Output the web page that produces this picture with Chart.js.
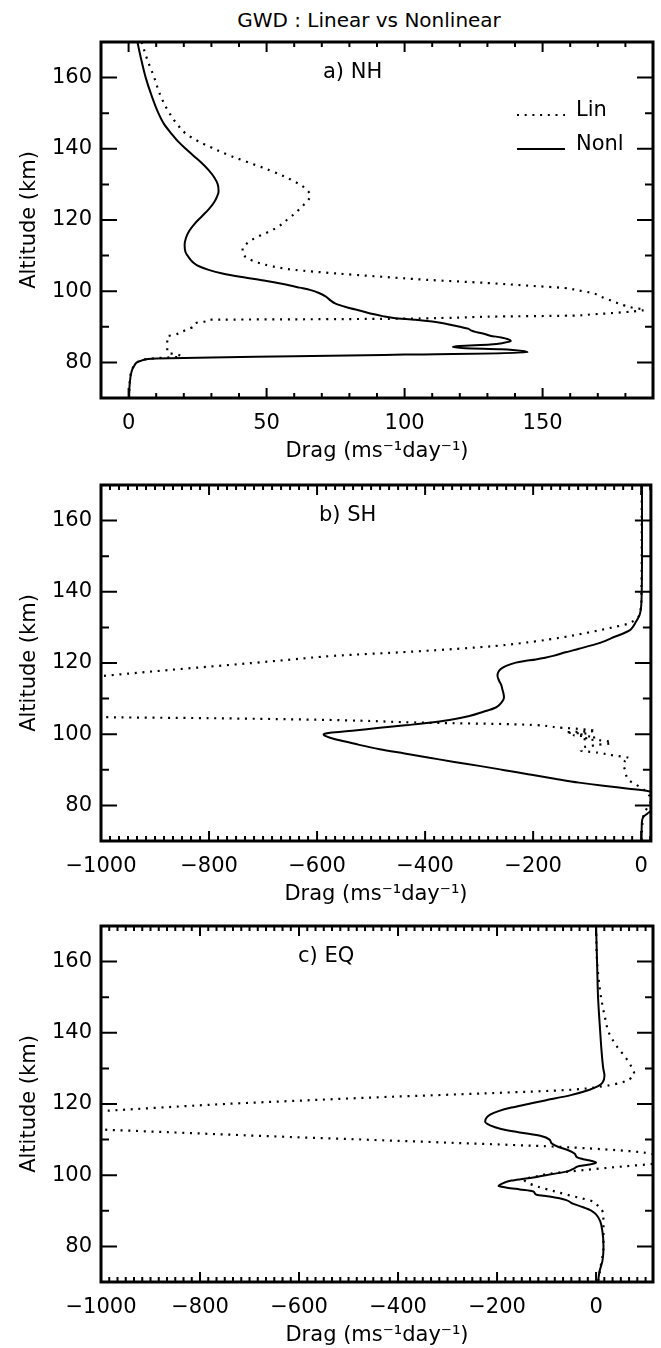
<!DOCTYPE html>
<html lang="en">
<head>
<meta charset="UTF-8">
<script src="https://cdn.jsdelivr.net/npm/chart.js@4.4.1/dist/chart.umd.min.js"></script>
<title>GWD : Linear vs Nonlinear</title>
<style>
    body { margin: 0; background: #fff; width: 661px; height: 1348px; position: relative; overflow: hidden; font-family: "DejaVu Sans", sans-serif; }
    #title { position: absolute; top: 8px; left: 0; width: 738px; text-align: center; font-size: 20px; line-height: 24px; color: #000; }
    canvas { position: absolute; left: 0; }
</style>
</head>
<body>
<div id="title">GWD : Linear vs Nonlinear</div>
<canvas id="nh" width="661" height="467" style="top:0px"></canvas>
<canvas id="sh" width="661" height="467" style="top:443px"></canvas>
<canvas id="eq" width="661" height="467" style="top:884px"></canvas>

<script>
// ---- a) NH ----
const nhLinAlt = [170, 165, 160, 156, 153, 150, 147, 144.3, 142, 140, 138, 136, 134, 132, 130, 128.5, 127, 125.5, 123.7, 122, 120, 118, 116.3, 115, 113.5, 112, 110.5, 109.3, 108, 107, 106, 105, 104.1, 103.2, 102.3, 101.5, 100.9, 100.2, 99.5, 98.5, 97.6, 96.7, 95.9, 95.3, 94.8, 94.3, 93.9, 93.5, 93.1, 92.9, 92.5, 92.25, 92.1, 92.0, 91.8, 91.5, 91.1, 90.1, 89.2, 88.5, 87.8, 87.3, 86, 85, 84, 83, 82.6, 82.4, 82, 81.6, 81.3, 81, 80.5, 80, 79, 78, 76, 73, 70];
const nhLinDrag = [4.7, 6.8, 9.3, 11, 12.7, 14.8, 17.5, 20.7, 25.5, 31, 37, 44, 51, 57, 62, 64.5, 65.8, 65, 62.7, 60.5, 57.3, 54, 49.7, 46, 43, 41.3, 41.5, 43, 47, 52, 60, 75, 91, 108, 130, 146, 158, 163, 168, 171, 174, 177, 180, 183, 187, 182.5, 176, 168, 158, 134, 115, 95, 60, 30, 28.5, 27.7, 24.5, 23.5, 21, 19, 17, 14, 14, 14, 14, 14, 14.5, 16.3, 18.5, 19, 12, 7, 4.5, 3, 2, 1.2, 0.6, 0.3, 0.2];
const nhNonAlt = [170, 165, 160, 155, 150, 147, 144, 142, 140, 138, 136, 134, 132, 130, 128, 126.5, 125, 123, 121, 119, 117, 115, 113, 111, 109.5, 108, 107, 106, 105, 104, 103, 102, 101, 100.3, 99.5, 98.5, 97.5, 96.5, 95.5, 94.5, 93.5, 93, 92.5, 92, 91.5, 91, 90.5, 90, 89.5, 89, 88.5, 88, 87.5, 87, 86.5, 86, 85.5, 85, 84.6, 84.3, 84, 83.7, 83.2, 82.8, 82.2, 81.7, 81.4, 81.1, 80.8, 80.4, 80, 79, 78, 76, 73, 70];
const nhNonDrag = [3.2, 4.6, 6.2, 8.3, 10.8, 12.8, 15.8, 18, 20.7, 23.6, 26.5, 29, 31, 32.3, 32.6, 32, 31, 29, 26.5, 24, 22, 20.8, 20.3, 20.6, 21.8, 23.5, 25.5, 29, 34, 41, 49, 56, 62, 66, 69, 71.5, 73, 75, 79, 84, 89, 92, 96, 104, 110, 114, 117, 120, 123, 124, 126, 129, 131, 135, 137.5, 138.5, 136, 131, 120, 117.5, 122, 135, 143, 144.5, 100, 60, 30, 10, 6, 4.3, 3, 2, 1.3, 0.7, 0.3, 0.2];

// ---- b) SH ----
const shLinAlt = [170, 150, 140, 136, 134.5, 133, 132.3, 131, 130, 128.5, 127.2, 126, 124.8, 123.2, 122, 121, 120, 119, 118, 117, 116.3, 115, 112, 110, 108, 106, 104.8, 104.5, 104, 103.2, 102.8, 101.8, 101.4, 100.9, 100.5, 100.1, 99.7, 99.2, 98.7, 98.2, 97.5, 97, 96.2, 95.4, 94.8, 94, 93.3, 92.5, 91.5, 90, 88.5, 87, 86, 85, 84, 83, 82, 81, 80, 79, 78, 76, 73, 70];
const shLinDrag = [1, 1, 0.5, 0, -2, -5, -10, -25, -53, -100, -146, -200, -269, -423, -570, -645, -720, -798, -877, -950, -1000, -1080, -1250, -1300, -1250, -1100, -1000, -800, -577, -392, -238, -146, -109, -84, -140, -100, -125, -85, -110, -70, -55, -80, -110, -112, -80, -50, -22, -30, -33, -30, -28, -22, -12, 0, 8, 14, 18, 17, 15, 10, 6, 3, 1.5, 1];
const shNonAlt = [170, 150, 140, 136, 134, 132.8, 131.5, 130, 129, 128, 127, 126, 125.3, 124, 123, 122, 121.5, 121, 120.5, 120.1, 119.2, 118.3, 117.3, 116.4, 115, 113.8, 112.6, 111.5, 110.3, 109, 107.5, 106.3, 105.1, 104, 103.2, 102.5, 101.8, 101, 100.4, 100, 99.5, 99, 98, 97, 95.8, 94.6, 93.4, 92.2, 91.1, 89.9, 88.7, 87.5, 86.4, 85.5, 84.7, 84, 83, 81, 79.5, 78.9, 78, 77.5, 77, 76, 74, 70];
const shNonDrag = [1.5, 1.5, 1, 0, -2, -5, -10, -16, -23, -38, -55, -70, -84, -115, -140, -163, -178, -195, -218, -232, -250, -260, -265, -266, -263, -259, -257, -255, -254, -258, -269, -292, -318, -355, -392, -437, -484, -535, -576, -588, -585, -576, -550, -522, -484, -438, -392, -346, -300, -253, -207, -160, -115, -70, -23, 14, 40, 50, 35, 25, 14, 10, 5, 2, 1, 0.5];

// ---- c) EQ ----
const eqLinAlt = [170, 160, 150, 145, 140, 136, 133, 130, 128.5, 127, 126, 125, 124, 123, 122, 121, 120, 119, 118, 117, 115.5, 114, 113, 112, 111, 110, 109, 108, 107, 106.3, 105.5, 104.5, 103.8, 103.2, 102.5, 101.4, 100.4, 99.5, 98.9, 97.8, 96.8, 95.9, 94.6, 93.7, 92.8, 91.9, 91, 89.4, 85, 80, 75, 70];
const eqLinDrag = [0, 2, 10, 17, 26, 43, 60, 73, 77, 68, 51, 15, -51, -222, -420, -590, -750, -880, -1000, -1120, -1250, -1180, -1030, -850, -670, -470, -270, -80, 45, 100, 125, 150, 135, 115, 58, -27, -95, -125, -146, -137, -118, -95, -61, -35, -10, 0, 7, 14, 15, 15, 10, 4];
const eqNonAlt = [170, 160, 150, 140, 135, 130, 128, 126, 125, 124, 122.5, 121, 120, 119, 118, 117, 116, 115, 114, 113, 112, 111, 110, 109, 108, 107, 106, 105, 104.5, 104, 103.5, 103, 102.6, 102, 101, 100.2, 99.5, 99, 98.5, 97.5, 97, 96.5, 96, 95.5, 95, 94.5, 94, 93, 92, 91, 90, 89, 87, 84, 80, 76, 73, 70];
const eqNonDrag = [0, 2, 4, 8.5, 11, 14.5, 17, 13, 4, -13, -51, -103, -137, -171, -197, -214, -222, -224, -214, -192, -154, -111, -94, -90, -77, -56, -43, -38, -26, -9, 0, -13, -34, -43, -60, -94, -120, -145, -171, -192, -197, -180, -154, -128, -124, -120, -94, -60, -47, -26, -9, 0, 8.5, 13, 15, 13, 7, 4];

// axis ticks
const altTicks = [80, 100, 120, 140, 160];
const nhDragTicks = [0, 50, 100, 150];
const shDragTicks = [-1000, -800, -600, -400, -200, 0];
const eqDragTicks = [-1000, -800, -600, -400, -200, 0];

const FONT = '"DejaVu Sans", sans-serif';
Chart.defaults.font.family = FONT;
Chart.defaults.color = '#000';

function pts(alt, drag) {
    return alt.map((a, i) => ({ x: drag[i], y: a }));
}

function fmt(v) {
    return v < 0 ? '\u2212' + Math.abs(v) : String(v);
}

function steps(min, max, step) {
    const out = [];
    for (let v = Math.ceil(min / step - 1e-9) * step; v <= max + 1e-9; v += step) out.push(v);
    return out;
}

// IDL style frame: thick box, inward ticks on all four sides, panel label and legend
const frame = {
    id: 'frame',
    afterDatasetsDraw(chart, args, opts) {
        const { ctx, chartArea: a, scales: { x, y } } = chart;
        ctx.save();
        ctx.strokeStyle = '#000';
        ctx.lineWidth = 2;
        ctx.beginPath();
        steps(y.min, y.max, 10).forEach(v => {
            const py = y.getPixelForValue(v);
            const len = altTicks.includes(v) ? 16 : 8;
            ctx.moveTo(a.left, py); ctx.lineTo(a.left + len, py);
            ctx.moveTo(a.right, py); ctx.lineTo(a.right - len, py);
        });
        steps(x.min, x.max, opts.minor).forEach(v => {
            const px = x.getPixelForValue(v);
            const major = opts.ticks.some(t => Math.abs(t - v) < 1e-6);
            const len = major ? 10 : 5;
            ctx.moveTo(px, a.bottom); ctx.lineTo(px, a.bottom - len);
            ctx.moveTo(px, a.top); ctx.lineTo(px, a.top + len);
        });
        ctx.stroke();

        ctx.lineWidth = 3;
        ctx.strokeRect(a.left, a.top, a.right - a.left, a.bottom - a.top);

        ctx.fillStyle = '#000';
        ctx.font = '21px ' + FONT;
        ctx.textBaseline = 'middle';
        ctx.textAlign = 'left';
        ctx.fillText(opts.label, a.left + opts.labelX, a.top + 31);

        if (opts.legend) {
            ctx.textBaseline = 'alphabetic';
            const x0 = a.left + 416, x1 = a.left + 464;
            const rows = [
                { text: 'Lin', dash: [2, 5.7], width: 2.2, dy: 73 },
                { text: 'Nonl', dash: [], width: 2, dy: 107 }
            ];
            rows.forEach(r => {
                ctx.setLineDash(r.dash);
                ctx.lineWidth = r.width;
                ctx.beginPath();
                ctx.moveTo(x0, a.top + r.dy);
                ctx.lineTo(x1, a.top + r.dy);
                ctx.stroke();
                ctx.fillText(r.text, a.left + 475, a.top + r.dy + 1);
            });
            ctx.setLineDash([]);
        }
        ctx.restore();
    }
};

function makeChart(id, p) {
    return new Chart(document.getElementById(id), {
        type: 'scatter',
        data: {
            datasets: [
                {
                    label: 'Lin',
                    data: pts(p.linAlt, p.linDrag),
                    showLine: true,
                    borderColor: '#000',
                    borderWidth: 2.2,
                    borderDash: [2, 5.7],
                    pointRadius: 0,
                    cubicInterpolationMode: 'monotone'
                },
                {
                    label: 'Nonl',
                    data: pts(p.nonAlt, p.nonDrag),
                    showLine: true,
                    borderColor: '#000',
                    borderWidth: 2,
                    pointRadius: 0,
                    cubicInterpolationMode: 'monotone'
                }
            ]
        },
        options: {
            indexAxis: 'y',
            responsive: false,
            animation: false,
            devicePixelRatio: 1,
            events: [],
            layout: { padding: { top: 42, right: 8, left: 0, bottom: 0 } },
            plugins: {
                legend: { display: false },
                tooltip: { enabled: false },
                frame: { label: p.label, labelX: p.labelX, legend: p.legend, ticks: p.ticks, minor: p.minor }
            },
            scales: {
                x: {
                    type: 'linear',
                    position: 'bottom',
                    min: p.min,
                    max: p.max,
                    grid: { display: false, drawTicks: false },
                    border: { display: false },
                    afterBuildTicks: s => { s.ticks = p.ticks.map(v => ({ value: v })); },
                    afterFit: s => { s.height = 69; },
                    ticks: { color: '#000', font: { size: 21 }, padding: 13, maxRotation: 0, autoSkip: false, callback: v => fmt(v) },
                    title: { display: true, text: 'Drag (ms\u207B\u00B9day\u207B\u00B9)', color: '#000', font: { size: 21 }, padding: { top: 4, bottom: 3 } }
                },
                y: {
                    type: 'linear',
                    position: 'left',
                    min: 70,
                    max: 170,
                    grid: { display: false, drawTicks: false },
                    border: { display: false },
                    afterBuildTicks: s => { s.ticks = altTicks.map(v => ({ value: v })); },
                    afterFit: s => { s.width = 101; },
                    ticks: { color: '#000', font: { size: 21 }, padding: 9, autoSkip: false },
                    title: { display: true, text: 'Altitude (km)', color: '#000', font: { size: 21 }, padding: { top: 17, bottom: 0 } }
                }
            }
        },
        plugins: [frame]
    });
}

makeChart('nh', {
    linAlt: nhLinAlt, linDrag: nhLinDrag, nonAlt: nhNonAlt, nonDrag: nhNonDrag,
    min: -10, max: 190, ticks: nhDragTicks, minor: 10,
    label: 'a) NH', labelX: 222, legend: true
});
makeChart('sh', {
    linAlt: shLinAlt, linDrag: shLinDrag, nonAlt: shNonAlt, nonDrag: shNonDrag,
    min: -1000, max: 18, ticks: shDragTicks, minor: 200 / 12,
    label: 'b) SH', labelX: 218, legend: false
});
makeChart('eq', {
    linAlt: eqLinAlt, linDrag: eqLinDrag, nonAlt: eqNonAlt, nonDrag: eqNonDrag,
    min: -1000, max: 115, ticks: eqDragTicks, minor: 200 / 12,
    label: 'c) EQ', labelX: 197, legend: false
});
</script>
</body>
</html>
